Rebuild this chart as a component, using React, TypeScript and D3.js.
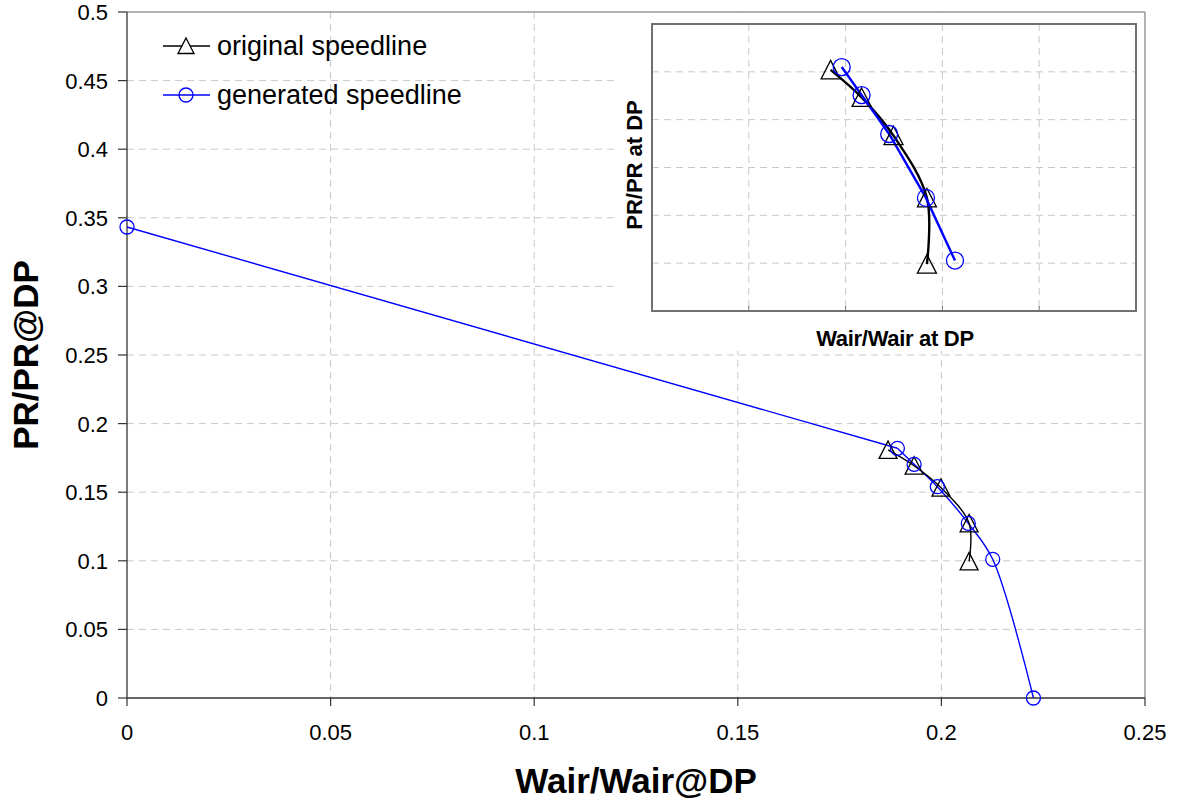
import * as d3 from 'd3';

const xTicks = [0, 0.05, 0.1, 0.15, 0.2, 0.25];
const xTickLabels = ['0', '0.05', '0.1', '0.15', '0.2', '0.25'];
const yTicks = [0, 0.05, 0.1, 0.15, 0.2, 0.25, 0.3, 0.35, 0.4, 0.45, 0.5];
const yTickLabels = ['0', '0.05', '0.1', '0.15', '0.2', '0.25', '0.3', '0.35', '0.4', '0.45', '0.5'];

// original speedline (triangles)
const originalX = [0.1869, 0.1933, 0.1999, 0.2068, 0.2068];
const originalY = [0.1808, 0.1693, 0.1533, 0.1273, 0.0996];

// generated speedline (circles)
const generatedX = [0, 0.1892, 0.1933, 0.199, 0.2066, 0.2126, 0.2226];
const generatedY = [0.3433, 0.182, 0.1703, 0.154, 0.1273, 0.1011, 0];

// inset zoom: generated points shown in the inset
const insetGenIdx = [1, 2, 3, 4, 5];
const insetXGrid = [0.17, 0.19, 0.21, 0.23];
const insetYGrid = [0.1, 0.12, 0.14, 0.16, 0.18];

const legendItems = ['original speedline', 'generated speedline'];

const FONT = 'Liberation Sans, Arial, Helvetica, sans-serif';

function tri(cx: number, cy: number, s = 8.5) {
  return `M${cx},${cy - s}L${cx + s},${cy + s - 0.5}L${cx - s},${cy + s - 0.5}Z`;
}

export default function App() {
  const width = 1177;
  const height = 805;

  const x = d3.scaleLinear().domain([0, 0.25]).range([127, 1145]);
  const y = d3.scaleLinear().domain([0, 0.5]).range([698, 12]);

  const ix = d3.scaleLinear().domain([0.15, 0.25]).range([652, 1136]);
  const iy = d3.scaleLinear().domain([0.08, 0.2]).range([311, 24]);

  const orig = originalX.map((v, i) => [v, originalY[i]] as [number, number]);
  const gen = generatedX.map((v, i) => [v, generatedY[i]] as [number, number]);
  const genInset = insetGenIdx.map((i) => gen[i]);

  const mainSmooth = d3
    .line<[number, number]>()
    .x((d) => x(d[0]))
    .y((d) => y(d[1]))
    .curve(d3.curveCatmullRom.alpha(0.5));

  const mainStraight = d3
    .line<[number, number]>()
    .x((d) => x(d[0]))
    .y((d) => y(d[1]));

  const insetSmooth = d3
    .line<[number, number]>()
    .x((d) => ix(d[0]))
    .y((d) => iy(d[1]))
    .curve(d3.curveCatmullRom.alpha(0.5));

  const insetStraight = d3
    .line<[number, number]>()
    .x((d) => ix(d[0]))
    .y((d) => iy(d[1]));

  const gridColor = '#c8c8c8';
  const dash = '7,5';

  return (
    <svg
      width={width}
      height={height}
      style={{ position: 'absolute', left: 0, top: 0, background: '#fff' }}
      fontFamily={FONT}
    >
      <rect x={0} y={0} width={width} height={height} fill='#fff' />

      {/* main gridlines */}
      {xTicks.slice(1, -1).map((t) => (
        <line key={'gx' + t} x1={x(t)} x2={x(t)} y1={y(0.5)} y2={y(0)} stroke={gridColor} strokeDasharray={dash} />
      ))}
      {yTicks.slice(1, -1).map((t) => (
        <line key={'gy' + t} x1={x(0)} x2={x(0.25)} y1={y(t)} y2={y(t)} stroke={gridColor} strokeDasharray={dash} />
      ))}

      {/* frame top/right */}
      <line x1={x(0)} x2={x(0.25)} y1={y(0.5)} y2={y(0.5)} stroke='#999' strokeWidth={1.5} />
      <line x1={x(0.25)} x2={x(0.25)} y1={y(0.5)} y2={y(0)} stroke='#999' strokeWidth={1.5} />

      {/* axes */}
      <line x1={x(0)} x2={x(0)} y1={y(0.5)} y2={y(0)} stroke='#333' strokeWidth={1.3} />
      <line x1={x(0)} x2={x(0.25)} y1={y(0)} y2={y(0)} stroke='#333' strokeWidth={1.3} />
      {yTicks.map((t, i) => (
        <g key={'yt' + t}>
          <line x1={x(0) - 9} x2={x(0)} y1={y(t)} y2={y(t)} stroke='#333' strokeWidth={1.2} />
          <text x={108} y={y(t)} dy='0.36em' textAnchor='end' fontSize={22} fill='#000'>
            {yTickLabels[i]}
          </text>
        </g>
      ))}
      {xTicks.map((t, i) => (
        <g key={'xt' + t}>
          <line x1={x(t)} x2={x(t)} y1={y(0)} y2={y(0) + 8} stroke='#333' strokeWidth={1.2} />
          <text x={x(t)} y={740} textAnchor='middle' fontSize={22} fill='#000'>
            {xTickLabels[i]}
          </text>
        </g>
      ))}

      {/* axis titles */}
      <text x={636} y={793} textAnchor='middle' fontSize={35} fontWeight='bold' fill='#000'>
        Wair/Wair@DP
      </text>
      <text
        transform={`translate(38,355) rotate(-90)`}
        textAnchor='middle'
        fontSize={35}
        fontWeight='bold'
        fill='#000'
      >
        PR/PR@DP
      </text>

      {/* main series */}
      <path d={mainStraight(gen.slice(0, 2)) ?? ''} fill='none' stroke='#0000ff' strokeWidth={1.4} />
      <path d={mainSmooth(gen.slice(1)) ?? ''} fill='none' stroke='#0000ff' strokeWidth={1.4} />
      <path d={mainSmooth(orig) ?? ''} fill='none' stroke='#000' strokeWidth={1.4} />
      {orig.map((d, i) => (
        <path key={'tm' + i} d={tri(x(d[0]), y(d[1]), 9)} fill='none' stroke='#000' strokeWidth={1.3} />
      ))}
      {gen.map((d, i) => (
        <circle key={'cm' + i} cx={x(d[0])} cy={y(d[1])} r={7} fill='none' stroke='#0000ff' strokeWidth={1.3} />
      ))}

      {/* legend */}
      {legendItems.map((label, i) => {
        const ly = 46 + i * 49;
        const col = i === 0 ? '#000' : '#0000ff';
        return (
          <g key={label}>
            <line x1={163} x2={210} y1={ly} y2={ly} stroke={col} strokeWidth={1.3} />
            {i === 0 ? (
              <path d={tri(186, ly, 8)} fill='#fff' stroke={col} strokeWidth={1.3} />
            ) : (
              <circle cx={186} cy={ly} r={7} fill='none' stroke={col} strokeWidth={1.3} />
            )}
            <text x={217} y={ly + 9} fontSize={27} fill='#000'>
              {label}
            </text>
          </g>
        );
      })}

      {/* inset chart area */}
      <rect x={618} y={13} width={526} height={338} fill='#fff' />
      {insetXGrid.map((t) => (
        <line key={'ix' + t} x1={ix(t)} x2={ix(t)} y1={iy(0.2)} y2={iy(0.08)} stroke={gridColor} strokeDasharray={dash} />
      ))}
      {insetYGrid.map((t) => (
        <line key={'iy' + t} x1={ix(0.15)} x2={ix(0.25)} y1={iy(t)} y2={iy(t)} stroke={gridColor} strokeDasharray={dash} />
      ))}
      {insetXGrid.map((t) => (
        <line key={'ixt' + t} x1={ix(t)} x2={ix(t)} y1={iy(0.08)} y2={iy(0.08) - 5} stroke='#777' strokeWidth={1} />
      ))}
      <rect
        x={ix(0.15)}
        y={iy(0.2)}
        width={ix(0.25) - ix(0.15)}
        height={iy(0.08) - iy(0.2)}
        fill='none'
        stroke='#707070'
        strokeWidth={2}
      />
      <path d={insetSmooth(orig) ?? ''} fill='none' stroke='#000' strokeWidth={2.4} />
      <path d={insetStraight(genInset) ?? ''} fill='none' stroke='#0000ff' strokeWidth={2.4} />
      {orig.map((d, i) => (
        <path key={'itm' + i} d={tri(ix(d[0]), iy(d[1]), 9.5)} fill='none' stroke='#000' strokeWidth={1.3} />
      ))}
      {genInset.map((d, i) => (
        <circle key={'icm' + i} cx={ix(d[0])} cy={iy(d[1])} r={8.5} fill='none' stroke='#0000ff' strokeWidth={1.3} />
      ))}
      <text x={895} y={346} textAnchor='middle' fontSize={22} fontWeight='bold' letterSpacing={-0.3} fill='#000'>
        Wair/Wair at DP
      </text>
      <text
        transform={`translate(642,165) rotate(-90)`}
        textAnchor='middle'
        fontSize={22}
        fontWeight='bold'
        fill='#000'
      >
        PR/PR at DP
      </text>
    </svg>
  );
}
